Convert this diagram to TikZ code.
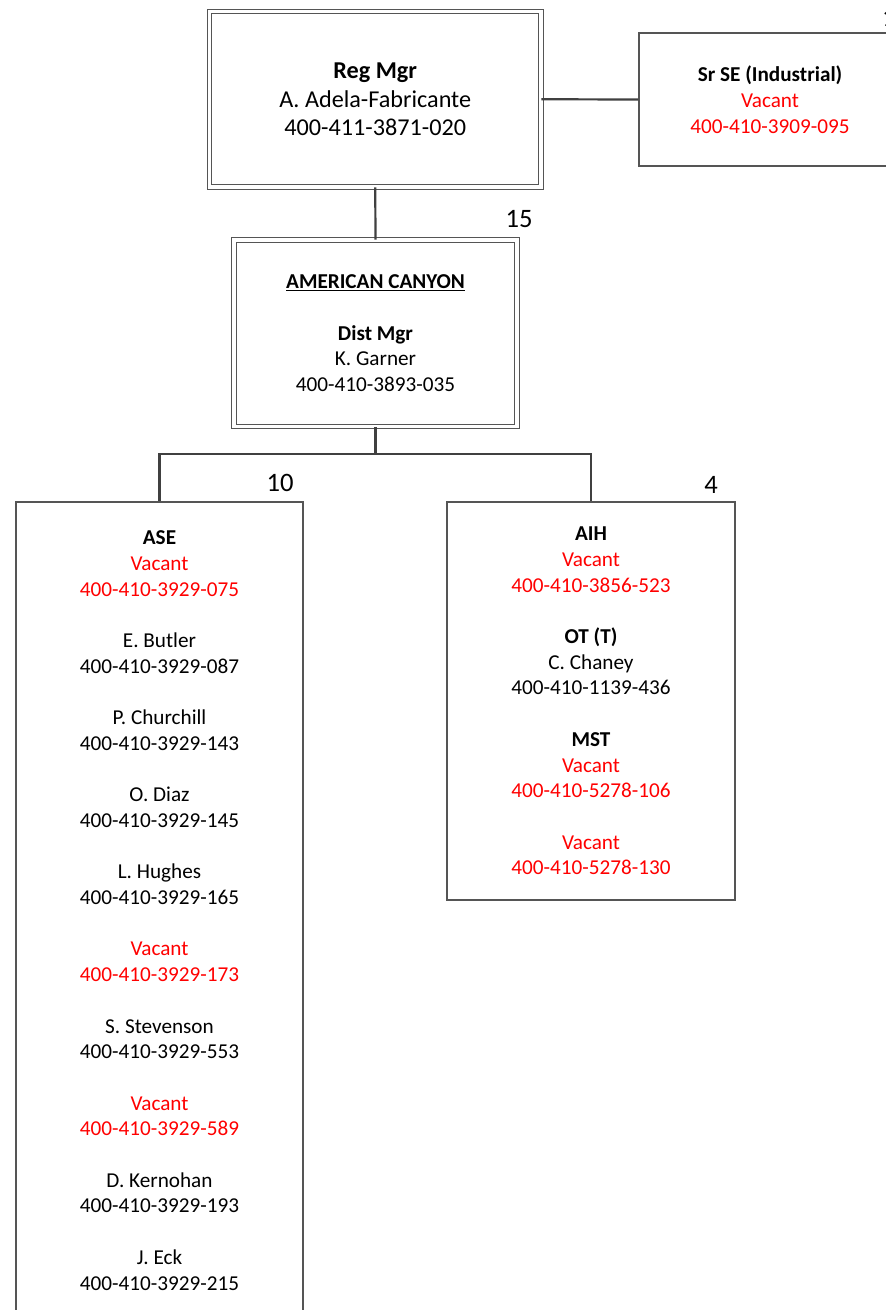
\documentclass[tikz,border=0pt]{standalone}
\usepackage{fontspec}
\setmainfont{Carlito}
\definecolor{vred}{RGB}{255,0,0}
\definecolor{edgec}{RGB}{64,64,64}
\definecolor{framec}{RGB}{85,85,85}
\begin{document}
\begin{tikzpicture}[x=1pt,y=-1pt,
  box/.style={draw=framec, line width=1.2pt, fill=white, align=center, inner sep=0pt,
    font=\fontsize{21.2}{25.7}\selectfont},
  dbox/.style={draw=framec, line width=0.9pt, double=white, double distance=3.6pt,
    fill=white, align=center, inner sep=0pt},
  link/.style={draw=edgec, line width=2.2pt},
  count/.style={font=\fontsize{26.6}{30}\selectfont, inner sep=0pt},
  vac/.style={text=vred}
]
\useasboundingbox (0,0) rectangle (886,1310);

\coordinate (j) at (375.5,454);

\node[dbox, minimum width=331.5pt, minimum height=175.5pt,
      font=\fontsize{24.2}{28.7}\selectfont] (reg) at (375.25,99.25)
  {\textbf{Reg Mgr}\\ A. Adela-Fabricante\\ 400-411-3871-020};
\node[box, minimum width=262pt, minimum height=133pt] (srse) at (770,99.5)
  {\textbf{Sr SE (Industrial)}\\ \textcolor{vred}{Vacant}\\ \textcolor{vred}{400-410-3909-095}};
\node[dbox, minimum width=283pt, minimum height=186.5pt,
      font=\fontsize{21.2}{25.7}\selectfont] (dist) at (375.5,333.25)
  {\underline{\textbf{AMERICAN CANYON}}\\[25.7pt] \textbf{Dist Mgr}\\ K. Garner\\ 400-410-3893-035};
\node[box, minimum width=287pt, minimum height=817pt] (ase) at (159.5,910.5)
  {\textbf{ASE}\\ \textcolor{vred}{Vacant}\\ \textcolor{vred}{400-410-3929-075}\\[25.7pt]
   E. Butler\\ 400-410-3929-087\\[25.7pt]
   P. Churchill\\ 400-410-3929-143\\[25.7pt]
   O. Diaz\\ 400-410-3929-145\\[25.7pt]
   L. Hughes\\ 400-410-3929-165\\[25.7pt]
   \textcolor{vred}{Vacant}\\ \textcolor{vred}{400-410-3929-173}\\[25.7pt]
   S. Stevenson\\ 400-410-3929-553\\[25.7pt]
   \textcolor{vred}{Vacant}\\ \textcolor{vred}{400-410-3929-589}\\[25.7pt]
   D. Kernohan\\ 400-410-3929-193\\[25.7pt]
   J. Eck\\ 400-410-3929-215};
\node[box, minimum width=288pt, minimum height=398pt] (aih) at (591,701)
  {\textbf{AIH}\\ \textcolor{vred}{Vacant}\\ \textcolor{vred}{400-410-3856-523}\\[25.7pt]
   \textbf{OT (T)}\\ C. Chaney\\ 400-410-1139-436\\[25.7pt]
   \textbf{MST}\\ \textcolor{vred}{Vacant}\\ \textcolor{vred}{400-410-5278-106}\\[25.7pt]
   \textcolor{vred}{Vacant}\\ \textcolor{vred}{400-410-5278-130}};

\draw[link] (reg.east) -- (srse.west);
\draw[link] (reg.south) -- (dist.north);
\draw[link] (dist.south) -- (j);
\draw[link] (j) -| (ase.north);
\draw[link] (j) -| (aih.north);

\node[count] (n15) at (519,219) {15};
\node[count] (n10) at (280,483) {10};
\node[count] (n4) at (711,485) {4};
\node[count, anchor=west] (n1) at (882,18) {1};
\end{tikzpicture}
\end{document}
